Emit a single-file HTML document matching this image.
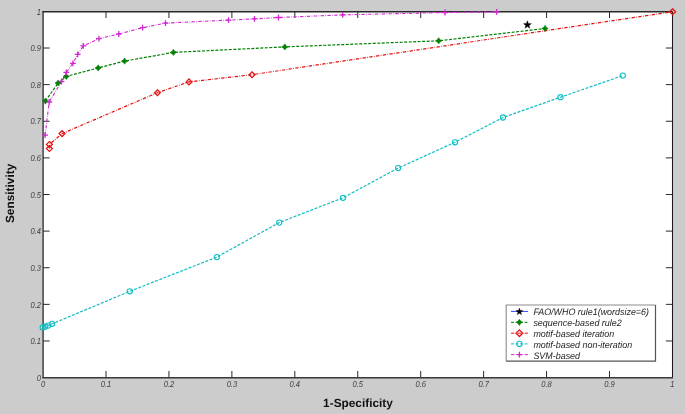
<!DOCTYPE html>
<html><head><meta charset="utf-8"><style>
html,body{margin:0;padding:0;background:#cccccc;}
body{width:685px;height:414px;overflow:hidden;}
svg{display:block;} text{text-rendering:geometricPrecision;}
.t{font-family:"Liberation Sans",sans-serif;font-style:italic;font-size:8.6px;fill:#404040;}
.ax{font-family:"Liberation Sans",sans-serif;font-weight:bold;font-size:11.85px;fill:#111111;}
.lg{font-family:"Liberation Sans",sans-serif;font-style:italic;font-size:9.35px;fill:#1e1e1e;}
</style></head><body>
<svg width="685" height="414" viewBox="0 0 685 414">
<defs><filter id="soft" color-interpolation-filters="sRGB" x="0" y="0" width="685" height="414" filterUnits="userSpaceOnUse"><feConvolveMatrix order="3" kernelMatrix="0.0000 0.0000 0.0000 0.0000 1.0000 0.0000 0.0000 0.0000 0.0000" divisor="1" edgeMode="duplicate" preserveAlpha="true"/></filter></defs>
<g filter="url(#soft)">
<rect x="0" y="0" width="685" height="414" fill="#cccccc"/>
<rect x="43.1" y="11.7" width="629.4" height="365.9" fill="#ffffff"/>
<path d="M43.1,11.7V377.6" stroke="#484848" stroke-width="1.56"/>
<path d="M672.5,11.7V377.6" stroke="#1a1a1a" stroke-width="1.05"/>
<path d="M42.3,11.75H673" stroke="#2a2a2a" stroke-width="1.5"/>
<path d="M42.3,377.7H673" stroke="#383838" stroke-width="1.4"/>
<path d="M106.00,377.6V371.0M106.00,11.4V18.0M43.06,340.98H49.660000000000004M672.45,340.98H665.85" stroke="#2a2a2a" stroke-width="1.0"/>
<path d="M168.94,377.6V371.0M168.94,11.4V18.0M43.06,304.36H49.660000000000004M672.45,304.36H665.85" stroke="#2a2a2a" stroke-width="1.0"/>
<path d="M231.88,377.6V371.0M231.88,11.4V18.0M43.06,267.74H49.660000000000004M672.45,267.74H665.85" stroke="#2a2a2a" stroke-width="1.0"/>
<path d="M294.82,377.6V371.0M294.82,11.4V18.0M43.06,231.12H49.660000000000004M672.45,231.12H665.85" stroke="#2a2a2a" stroke-width="1.0"/>
<path d="M357.76,377.6V371.0M357.76,11.4V18.0M43.06,194.50H49.660000000000004M672.45,194.50H665.85" stroke="#2a2a2a" stroke-width="1.0"/>
<path d="M420.69,377.6V371.0M420.69,11.4V18.0M43.06,157.88H49.660000000000004M672.45,157.88H665.85" stroke="#2a2a2a" stroke-width="1.0"/>
<path d="M483.63,377.6V371.0M483.63,11.4V18.0M43.06,121.26H49.660000000000004M672.45,121.26H665.85" stroke="#2a2a2a" stroke-width="1.0"/>
<path d="M546.57,377.6V371.0M546.57,11.4V18.0M43.06,84.64H49.660000000000004M672.45,84.64H665.85" stroke="#2a2a2a" stroke-width="1.0"/>
<path d="M609.51,377.6V371.0M609.51,11.4V18.0M43.06,48.02H49.660000000000004M672.45,48.02H665.85" stroke="#2a2a2a" stroke-width="1.0"/>
<polyline points="42.7,327.4 45.2,326.7 48.1,325.6 52.1,323.8 129.8,291.3 216.8,257.1 279.2,222.6 343.0,197.8 398.1,168.1 455.0,142.3 503.0,117.5 560.5,97.2 622.8,75.6" fill="none" stroke="#12bec4" stroke-width="1.2" stroke-dasharray="3 1.5"/>
<polyline points="49.4,148.6 49.4,144.4 62.1,133.6 157.4,92.7 189.0,81.9 252.0,74.7 672.6,11.7" fill="none" stroke="#e41010" stroke-width="1.2" stroke-dasharray="3.3 1.4 0.7 1.4"/>
<polyline points="45.4,101.1 58.1,83.0 66.3,76.4 98.2,67.9 124.6,61.1 173.4,52.4 284.8,46.9 438.7,40.8 545.0,28.5" fill="none" stroke="#008000" stroke-width="1.2" stroke-dasharray="3 1.5"/>
<polyline points="45.1,135.1 49.2,102.0 61.5,81.5 66.3,72.3 72.9,63.4 77.7,54.3 83.3,45.8 98.9,38.7 118.8,34.0 142.6,27.7 165.5,23.1 228.5,20.1 254.5,18.9 278.5,17.5 342.7,14.9 445.0,12.5 496.7,11.9" fill="none" stroke="#d028d0" stroke-width="1.1" stroke-dasharray="3.3 1.4 0.7 1.4"/>
<circle cx="42.7" cy="327.4" r="2.6" stroke="#12bec4" stroke-width="1.1" fill="none"/>
<circle cx="45.2" cy="326.7" r="2.6" stroke="#12bec4" stroke-width="1.1" fill="none"/>
<circle cx="48.1" cy="325.6" r="2.6" stroke="#12bec4" stroke-width="1.1" fill="none"/>
<circle cx="52.1" cy="323.8" r="2.6" stroke="#12bec4" stroke-width="1.1" fill="none"/>
<circle cx="129.8" cy="291.3" r="2.6" stroke="#12bec4" stroke-width="1.1" fill="none"/>
<circle cx="216.8" cy="257.1" r="2.6" stroke="#12bec4" stroke-width="1.1" fill="none"/>
<circle cx="279.2" cy="222.6" r="2.6" stroke="#12bec4" stroke-width="1.1" fill="none"/>
<circle cx="343.0" cy="197.8" r="2.6" stroke="#12bec4" stroke-width="1.1" fill="none"/>
<circle cx="398.1" cy="168.1" r="2.6" stroke="#12bec4" stroke-width="1.1" fill="none"/>
<circle cx="455.0" cy="142.3" r="2.6" stroke="#12bec4" stroke-width="1.1" fill="none"/>
<circle cx="503.0" cy="117.5" r="2.6" stroke="#12bec4" stroke-width="1.1" fill="none"/>
<circle cx="560.5" cy="97.2" r="2.6" stroke="#12bec4" stroke-width="1.1" fill="none"/>
<circle cx="622.8" cy="75.6" r="2.6" stroke="#12bec4" stroke-width="1.1" fill="none"/>
<path d="M49.4,145.7L52.4,148.6L49.4,151.5L46.4,148.6Z" stroke="#e41010" stroke-width="1.25" fill="none"/>
<path d="M49.4,141.5L52.4,144.4L49.4,147.3L46.4,144.4Z" stroke="#e41010" stroke-width="1.25" fill="none"/>
<path d="M62.1,130.7L65.0,133.6L62.1,136.5L59.1,133.6Z" stroke="#e41010" stroke-width="1.25" fill="none"/>
<path d="M157.4,89.8L160.3,92.7L157.4,95.7L154.5,92.7Z" stroke="#e41010" stroke-width="1.25" fill="none"/>
<path d="M189.0,79.0L191.9,81.9L189.0,84.9L186.1,81.9Z" stroke="#e41010" stroke-width="1.25" fill="none"/>
<path d="M252.0,71.8L254.9,74.7L252.0,77.7L249.1,74.7Z" stroke="#e41010" stroke-width="1.25" fill="none"/>
<path d="M672.6,8.8L675.6,11.7L672.6,14.6L669.6,11.7Z" stroke="#e41010" stroke-width="1.25" fill="none"/>
<path d="M45.40,98.00L46.64,99.86L48.50,101.10L46.64,102.34L45.40,104.20L44.16,102.34L42.30,101.10L44.16,99.86Z" fill="#008000" stroke="#008000" stroke-width="0.6"/>
<path d="M58.10,79.90L59.34,81.76L61.20,83.00L59.34,84.24L58.10,86.10L56.86,84.24L55.00,83.00L56.86,81.76Z" fill="#008000" stroke="#008000" stroke-width="0.6"/>
<path d="M66.30,73.30L67.54,75.16L69.40,76.40L67.54,77.64L66.30,79.50L65.06,77.64L63.20,76.40L65.06,75.16Z" fill="#008000" stroke="#008000" stroke-width="0.6"/>
<path d="M98.20,64.80L99.44,66.66L101.30,67.90L99.44,69.14L98.20,71.00L96.96,69.14L95.10,67.90L96.96,66.66Z" fill="#008000" stroke="#008000" stroke-width="0.6"/>
<path d="M124.60,58.00L125.84,59.86L127.70,61.10L125.84,62.34L124.60,64.20L123.36,62.34L121.50,61.10L123.36,59.86Z" fill="#008000" stroke="#008000" stroke-width="0.6"/>
<path d="M173.40,49.30L174.64,51.16L176.50,52.40L174.64,53.64L173.40,55.50L172.16,53.64L170.30,52.40L172.16,51.16Z" fill="#008000" stroke="#008000" stroke-width="0.6"/>
<path d="M284.80,43.80L286.04,45.66L287.90,46.90L286.04,48.14L284.80,50.00L283.56,48.14L281.70,46.90L283.56,45.66Z" fill="#008000" stroke="#008000" stroke-width="0.6"/>
<path d="M438.70,37.70L439.94,39.56L441.80,40.80L439.94,42.04L438.70,43.90L437.46,42.04L435.60,40.80L437.46,39.56Z" fill="#008000" stroke="#008000" stroke-width="0.6"/>
<path d="M545.00,25.40L546.24,27.26L548.10,28.50L546.24,29.74L545.00,31.60L543.76,29.74L541.90,28.50L543.76,27.26Z" fill="#008000" stroke="#008000" stroke-width="0.6"/>
<path d="M42.2,135.1H48.0M45.1,132.2V138.0" stroke="#d028d0" stroke-width="1.3" fill="none"/>
<path d="M46.3,102.0H52.1M49.2,99.1V104.9" stroke="#d028d0" stroke-width="1.3" fill="none"/>
<path d="M58.6,81.5H64.4M61.5,78.6V84.4" stroke="#d028d0" stroke-width="1.3" fill="none"/>
<path d="M63.4,72.3H69.2M66.3,69.4V75.2" stroke="#d028d0" stroke-width="1.3" fill="none"/>
<path d="M70.0,63.4H75.8M72.9,60.5V66.3" stroke="#d028d0" stroke-width="1.3" fill="none"/>
<path d="M74.8,54.3H80.6M77.7,51.4V57.2" stroke="#d028d0" stroke-width="1.3" fill="none"/>
<path d="M80.4,45.8H86.2M83.3,42.9V48.7" stroke="#d028d0" stroke-width="1.3" fill="none"/>
<path d="M96.0,38.7H101.8M98.9,35.8V41.6" stroke="#d028d0" stroke-width="1.3" fill="none"/>
<path d="M115.9,34.0H121.7M118.8,31.1V36.9" stroke="#d028d0" stroke-width="1.3" fill="none"/>
<path d="M139.7,27.7H145.5M142.6,24.8V30.6" stroke="#d028d0" stroke-width="1.3" fill="none"/>
<path d="M162.6,23.1H168.4M165.5,20.2V26.0" stroke="#d028d0" stroke-width="1.3" fill="none"/>
<path d="M225.6,20.1H231.4M228.5,17.2V23.0" stroke="#d028d0" stroke-width="1.3" fill="none"/>
<path d="M251.6,18.9H257.4M254.5,16.0V21.8" stroke="#d028d0" stroke-width="1.3" fill="none"/>
<path d="M275.6,17.5H281.4M278.5,14.6V20.4" stroke="#d028d0" stroke-width="1.3" fill="none"/>
<path d="M339.8,14.9H345.6M342.7,12.0V17.8" stroke="#d028d0" stroke-width="1.3" fill="none"/>
<path d="M442.1,12.5H447.9M445.0,9.6V15.4" stroke="#d028d0" stroke-width="1.3" fill="none"/>
<path d="M493.8,11.9H499.6M496.7,9.0V14.8" stroke="#d028d0" stroke-width="1.3" fill="none"/>
<path d="M527.40,20.80L528.41,23.51L531.30,23.63L529.04,25.43L529.81,28.22L527.40,26.62L524.99,28.22L525.76,25.43L523.50,23.63L526.39,23.51Z" fill="#000" stroke="#000" stroke-width="0.4"/>
<text transform="translate(43.06,387) scale(0.88,1)" text-anchor="middle" class="t">0</text>
<text transform="translate(40.9,380.80) scale(0.88,1)" text-anchor="end" class="t">0</text>
<text transform="translate(106.00,387) scale(0.88,1)" text-anchor="middle" class="t">0.1</text>
<text transform="translate(40.9,344.18) scale(0.88,1)" text-anchor="end" class="t">0.1</text>
<text transform="translate(168.94,387) scale(0.88,1)" text-anchor="middle" class="t">0.2</text>
<text transform="translate(40.9,307.56) scale(0.88,1)" text-anchor="end" class="t">0.2</text>
<text transform="translate(231.88,387) scale(0.88,1)" text-anchor="middle" class="t">0.3</text>
<text transform="translate(40.9,270.94) scale(0.88,1)" text-anchor="end" class="t">0.3</text>
<text transform="translate(294.82,387) scale(0.88,1)" text-anchor="middle" class="t">0.4</text>
<text transform="translate(40.9,234.32) scale(0.88,1)" text-anchor="end" class="t">0.4</text>
<text transform="translate(357.76,387) scale(0.88,1)" text-anchor="middle" class="t">0.5</text>
<text transform="translate(40.9,197.70) scale(0.88,1)" text-anchor="end" class="t">0.5</text>
<text transform="translate(420.69,387) scale(0.88,1)" text-anchor="middle" class="t">0.6</text>
<text transform="translate(40.9,161.08) scale(0.88,1)" text-anchor="end" class="t">0.6</text>
<text transform="translate(483.63,387) scale(0.88,1)" text-anchor="middle" class="t">0.7</text>
<text transform="translate(40.9,124.46) scale(0.88,1)" text-anchor="end" class="t">0.7</text>
<text transform="translate(546.57,387) scale(0.88,1)" text-anchor="middle" class="t">0.8</text>
<text transform="translate(40.9,87.84) scale(0.88,1)" text-anchor="end" class="t">0.8</text>
<text transform="translate(609.51,387) scale(0.88,1)" text-anchor="middle" class="t">0.9</text>
<text transform="translate(40.9,51.22) scale(0.88,1)" text-anchor="end" class="t">0.9</text>
<text transform="translate(672.45,387) scale(0.88,1)" text-anchor="middle" class="t">1</text>
<text transform="translate(40.9,14.60) scale(0.88,1)" text-anchor="end" class="t">1</text>
<text x="358" y="407" text-anchor="middle" class="ax">1-Specificity</text>
<text transform="translate(14.0,193.4) rotate(-90)" x="0" y="0" text-anchor="middle" class="ax">Sensitivity</text>
<rect x="506.2" y="305.0" width="149.3" height="56.19999999999999" fill="#ffffff"/>
<path d="M506.2,361.2V305.0H655.5" stroke="#8c8c8c" stroke-width="1.1" fill="none"/>
<path d="M506.2,361.2H655.5V305.0" stroke="#555555" stroke-width="1.2" fill="none"/>
<path d="M511,311.4H528" stroke="#3444f0" stroke-width="1"/><path d="M519.40,308.10L520.29,310.48L522.82,310.59L520.84,312.17L521.52,314.61L519.40,313.21L517.28,314.61L517.96,312.17L515.98,310.59L518.51,310.48Z" fill="#000" stroke="#000" stroke-width="0.4"/>
<path d="M511,322.3H528" stroke="#008000" stroke-width="1" stroke-dasharray="3 1.5"/><path d="M519.40,319.20L520.64,321.06L522.50,322.30L520.64,323.54L519.40,325.40L518.16,323.54L516.30,322.30L518.16,321.06Z" fill="#008000" stroke="#008000" stroke-width="0.6"/>
<path d="M511,333.2H528" stroke="#e41010" stroke-width="1" stroke-dasharray="3.3 1.4 0.7 1.4"/><path d="M519.4,329.9L522.7,333.2L519.4,336.5L516.1,333.2Z" stroke="#e41010" stroke-width="1.25" fill="none"/>
<path d="M511,343.9H528" stroke="#12bec4" stroke-width="1" stroke-dasharray="3 1.5"/><circle cx="519.4" cy="343.9" r="2.6" stroke="#12bec4" stroke-width="1.1" fill="none"/>
<path d="M511,354.6H528" stroke="#d028d0" stroke-width="1" stroke-dasharray="3.3 1.4 0.7 1.4"/><path d="M516.5,354.6H522.3M519.4,351.7V357.5" stroke="#d028d0" stroke-width="1.3" fill="none"/>
<text transform="translate(533.4,315.4) scale(0.955,1)" class="lg">FAO/WHO rule1(wordsize=6)</text>
<text transform="translate(533.4,326.3) scale(0.955,1)" class="lg">sequence-based rule2</text>
<text transform="translate(533.4,337.2) scale(0.955,1)" class="lg">motif-based iteration</text>
<text transform="translate(533.4,347.9) scale(0.955,1)" class="lg">motif-based non-iteration</text>
<text transform="translate(533.4,358.6) scale(0.955,1)" class="lg">SVM-based</text>
</g>
</svg>
</body></html>
